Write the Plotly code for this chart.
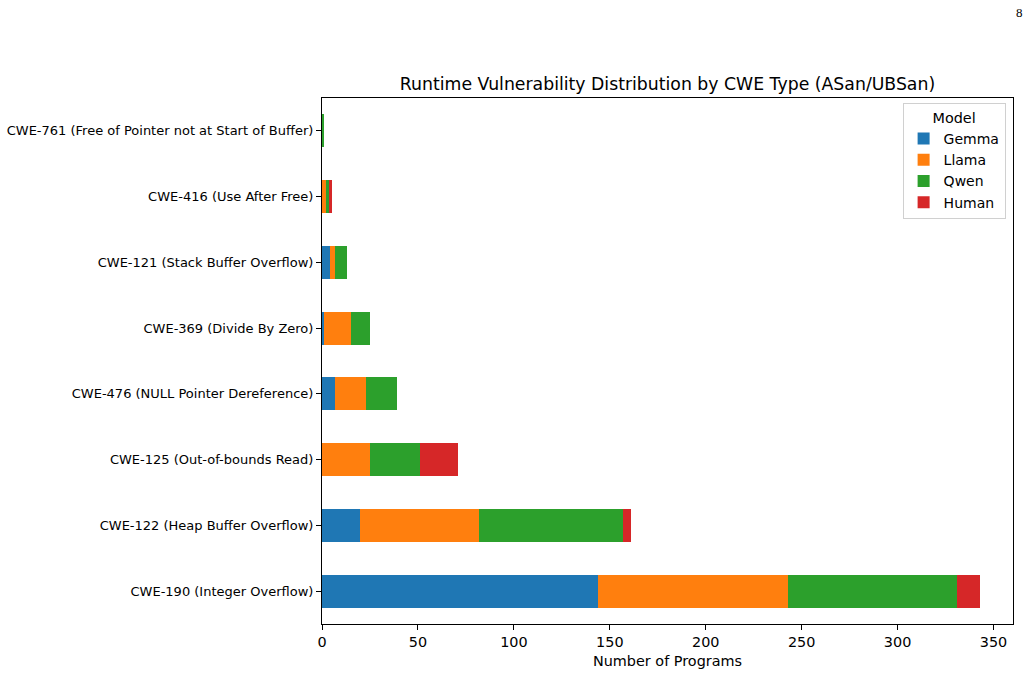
import plotly.graph_objects as go

categories = [
    "CWE-190 (Integer Overflow)",
    "CWE-122 (Heap Buffer Overflow)",
    "CWE-125 (Out-of-bounds Read)",
    "CWE-476 (NULL Pointer Dereference)",
    "CWE-369 (Divide By Zero)",
    "CWE-121 (Stack Buffer Overflow)",
    "CWE-416 (Use After Free)",
    "CWE-761 (Free of Pointer not at Start of Buffer)",
]
gemma = [144, 20, 0, 7, 1, 4, 0, 0]
llama = [99, 62, 25, 16, 14, 3, 2, 0]
qwen = [88, 75, 26, 16, 10, 6, 2, 1]
human = [12, 4, 20, 0, 0, 0, 1, 0]
x_ticks = [0, 50, 100, 150, 200, 250, 300, 350]

series = [("Gemma", gemma, "#1f77b4"), ("Llama", llama, "#ff7f0e"),
          ("Qwen", qwen, "#2ca02c"), ("Human", human, "#d62728")]

FONT = "DejaVu Sans"
fig = go.Figure()
for name, vals, color in series:
    fig.add_trace(go.Bar(
        y=categories, x=vals, name=name, orientation="h",
        marker=dict(color=color, line=dict(width=0)), width=0.5,
    ))

totals = [sum(v) for v in zip(gemma, llama, qwen, human)]

fig.update_layout(
    width=1029, height=675,
    barmode="stack",
    paper_bgcolor="white", plot_bgcolor="white",
    margin=dict(l=322, r=16, t=98, b=51, autoexpand=False),
    font=dict(family=FONT, size=13, color="black"),
    title=dict(text="Runtime Vulnerability Distribution by CWE Type (ASan/UBSan)",
               x=(322 + 1013) / 2 / 1029, xanchor="center",
               y=1 - 84 / 675, yanchor="middle",
               font=dict(family=FONT, size=17.3, color="black")),
    showlegend=True,
    legend=dict(
        title=dict(text="Model", side="top center", font=dict(size=14.4)),
        x=0.9893, xanchor="right", y=0.99, yanchor="top",
        bgcolor="white", bordercolor="#d0d0d0", borderwidth=1,
        traceorder="normal", font=dict(size=14),
        itemwidth=30,
    ),
)
fig.update_xaxes(
    range=[0, max(totals) * 1.05],
    tickvals=x_ticks, ticktext=[str(t) for t in x_ticks],
    ticks="outside", ticklen=5, tickwidth=1, tickcolor="black",
    showline=True, linecolor="black", linewidth=1, mirror=True,
    showgrid=False, zeroline=False,
    title=dict(text="Number of Programs", font=dict(size=14.4), standoff=6),
    tickfont=dict(size=14.4),
)
fig.update_yaxes(
    type="category", categoryorder="array", categoryarray=categories,
    range=[-0.5, len(categories) - 0.5],
    ticks="outside", ticklen=5, tickwidth=1, tickcolor="black",
    showline=True, linecolor="black", linewidth=1, mirror=True,
    showgrid=False, zeroline=False,
    tickfont=dict(size=13),
)
fig.add_annotation(
    text="8", xref="paper", yref="paper",
    x=(1019 - 322) / 691, y=(624 - 12) / 526,
    xanchor="center", yanchor="middle", showarrow=False,
    font=dict(family="Liberation Serif", size=13, color="black"),
)
fig.write_html("out.html")
